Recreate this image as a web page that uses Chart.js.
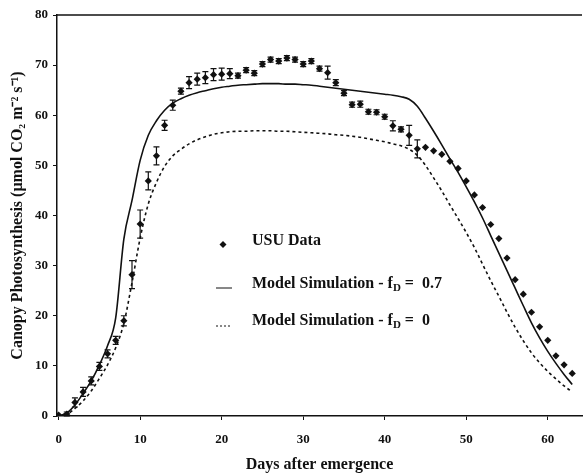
<!DOCTYPE html>
<html>
<head>
<meta charset="utf-8">
<script src="https://cdn.jsdelivr.net/npm/chart.js@4/dist/chart.umd.min.js"></script>
<style>
    html, body { margin: 0; padding: 0; background: #fff; }
    canvas { display: block; }
</style>
</head>
<body>
<canvas id="chartFotosintesis" width="586" height="476"></canvas>
<script>
// Días después de la emergencia
const dias = [0, 1, 2, 3, 4, 5, 6, 7, 8, 9, 10, 11, 12, 13, 14, 15, 16, 17, 18, 19, 20, 21, 22, 23, 24, 25, 26, 27, 28, 29, 30, 31,
    32, 33, 34, 35, 36, 37, 38, 39, 40, 41, 42, 43, 44, 45, 46, 47, 48, 49, 50, 51, 52, 53, 54, 55, 56, 57, 58, 59, 60, 61, 62, 63];

// Datos medidos (USU) y su error
const datosUSU = [0.2, 0.4, 2.7, 4.8, 7.0, 9.9, 12.4, 15.1, 19.0, 28.2, 38.3, 46.9, 51.9, 58.0, 62.0, 64.8, 66.5, 67.2, 67.5, 68.1,
    68.2, 68.3, 67.9, 69.0, 68.4, 70.2, 71.1, 70.8, 71.4, 71.1, 70.2, 70.8, 69.3, 68.5, 66.5, 64.4, 62.1, 62.2, 60.7, 60.6,
    59.7, 57.9, 57.2, 56.0, 53.3, 53.6, 52.9, 52.2, 50.8, 49.4, 46.9, 44.1, 41.6, 38.2, 35.4, 31.5, 27.2, 24.3, 20.7, 17.8,
    15.1, 12.0, 10.2, 8.5];
const errorUSU = [0, 0.4, 0.9, 0.9, 0.8, 0.8, 0.8, 0.8, 1.0, 2.8, 2.8, 1.8, 1.8, 1.0, 1.0, 0.6, 1.2, 1.2, 1.2, 1.2,
    1.2, 1.0, 0.5, 0.5, 0.5, 0.5, 0.5, 0.5, 0.5, 0.5, 0.5, 0.5, 0.5, 1.3, 0.6, 0.5, 0.5, 0.6, 0.5, 0.5,
    0.5, 1.0, 0.5, 2.0, 1.8, 0, 0, 0, 0, 0, 0, 0, 0, 0, 0, 0, 0, 0, 0, 0,
    0, 0, 0, 0];

// Simulaciones del modelo
const modeloFd07 = [0, 0.6, 2.2, 4.5, 7.0, 10.2, 14.0, 19.6, 35.3, 43.0, 51.0, 56.0, 58.9, 61.0, 62.4, 63.3, 64.0, 64.5, 64.9, 65.3,
    65.6, 65.8, 66.0, 66.1, 66.2, 66.3, 66.3, 66.3, 66.2, 66.2, 66.1, 66.0, 65.8, 65.6, 65.4, 65.2, 65.0, 64.8, 64.6, 64.4,
    64.2, 64.0, 63.7, 63.2, 61.8, 59.4, 56.8, 54.1, 51.3, 48.6, 45.7, 42.7, 39.5, 36.0, 32.5, 29.0, 25.5, 22.0, 18.6, 15.6,
    12.9, 10.5, 8.3, 6.3];
const modeloFd0 = [0, 0.3, 1.5, 3.0, 5.0, 7.5, 10.2, 13.6, 18.5, 26.6, 35.5, 42.3, 46.6, 49.8, 51.9, 53.2, 54.3, 55.1, 55.7, 56.2,
    56.5, 56.7, 56.8, 56.8, 56.9, 56.9, 56.9, 56.8, 56.8, 56.7, 56.6, 56.5, 56.4, 56.3, 56.1, 56.0, 55.8, 55.6, 55.3, 55.0,
    54.7, 54.3, 53.9, 53.2, 52.0, 50.0, 47.5, 44.9, 42.1, 39.4, 36.6, 33.6, 30.3, 27.0, 23.9, 20.7, 17.7, 15.0, 12.6, 10.6,
    8.9, 7.4, 6.0, 4.8];

const ticksX = [0, 10, 20, 30, 40, 50, 60];

const fuente = "'Liberation Serif', 'Times New Roman', serif";
const negro = '#111';

const puntos = (valores) => dias.map((d, i) => ({ x: d, y: valores[i] }));

// Barras de error sobre los datos USU
const barrasError = {
    id: 'barrasError',
    afterDatasetsDraw(chart) {
        const { ctx, scales: { x, y } } = chart;
        ctx.save();
        ctx.strokeStyle = negro;
        ctx.lineWidth = 1.2;
        dias.forEach((d, i) => {
            const e = errorUSU[i];
            if (!e) return;
            const px = x.getPixelForValue(d);
            const y1 = y.getPixelForValue(datosUSU[i] + e);
            const y2 = y.getPixelForValue(datosUSU[i] - e);
            ctx.beginPath();
            ctx.moveTo(px, y1); ctx.lineTo(px, y2);
            ctx.moveTo(px - 3, y1); ctx.lineTo(px + 3, y1);
            ctx.moveTo(px - 3, y2); ctx.lineTo(px + 3, y2);
            ctx.stroke();
        });
        ctx.restore();
    }
};

// Marco superior y leyenda dentro del gráfico
const leyenda = {
    id: 'leyenda',
    afterDraw(chart) {
        const { ctx, chartArea } = chart;
        ctx.save();
        ctx.strokeStyle = negro;
        ctx.lineWidth = 1.5;
        ctx.beginPath();
        ctx.moveTo(chartArea.left, chartArea.top);
        ctx.lineTo(chartArea.right, chartArea.top);
        ctx.stroke();

        ctx.fillStyle = negro;
        ctx.textBaseline = 'middle';
        ctx.font = `bold 16px ${fuente}`;

        // USU Data
        ctx.beginPath();
        ctx.moveTo(223, 241); ctx.lineTo(226.5, 244.5); ctx.lineTo(223, 248); ctx.lineTo(219.5, 244.5);
        ctx.closePath();
        ctx.fill();
        ctx.fillText('USU Data', 252, 241);

        const conSubindice = (xIni, yMid, valor) => {
            ctx.font = `bold 16px ${fuente}`;
            let xx = xIni;
            ctx.fillText('Model Simulation - f', xx, yMid);
            xx += ctx.measureText('Model Simulation - f').width;
            ctx.font = `bold 11px ${fuente}`;
            ctx.fillText('D', xx, yMid + 4);
            xx += ctx.measureText('D').width;
            ctx.font = `bold 16px ${fuente}`;
            ctx.fillText(' =  ' + valor, xx, yMid);
        };

        ctx.lineWidth = 1;
        ctx.beginPath();
        ctx.moveTo(216, 288); ctx.lineTo(232, 288);
        ctx.stroke();
        conSubindice(252, 284, '0.7');

        ctx.setLineDash([2, 2]);
        ctx.beginPath();
        ctx.moveTo(216, 326); ctx.lineTo(232, 326);
        ctx.stroke();
        ctx.setLineDash([]);
        conSubindice(252, 321, '0');
        ctx.restore();
    }
};

const crearGrafico = () => {
    const ctx = document.getElementById('chartFotosintesis').getContext('2d');
    new Chart(ctx, {
        type: 'scatter',
        data: {
            datasets: [
                {
                    label: 'USU Data',
                    data: puntos(datosUSU),
                    showLine: false,
                    pointStyle: 'rectRot',
                    pointRadius: 3.6,
                    backgroundColor: negro,
                    borderColor: negro,
                    borderWidth: 0
                },
                {
                    label: 'Model Simulation - fD = 0.7',
                    data: puntos(modeloFd07),
                    showLine: true,
                    pointRadius: 0,
                    borderColor: negro,
                    borderWidth: 1.6,
                    cubicInterpolationMode: 'monotone'
                },
                {
                    label: 'Model Simulation - fD = 0',
                    data: puntos(modeloFd0),
                    showLine: true,
                    pointRadius: 0,
                    borderColor: negro,
                    borderWidth: 1.6,
                    borderDash: [3, 3],
                    cubicInterpolationMode: 'monotone'
                }
            ]
        },
        options: {
            responsive: false,
            animation: false,
            layout: { padding: { top: 15, right: 0, left: 0, bottom: 0 } },
            plugins: {
                legend: { display: false },
                tooltip: { enabled: false }
            },
            scales: {
                x: {
                    type: 'linear',
                    min: -0.2,
                    max: 64.2,
                    afterBuildTicks: (scale) => { scale.ticks = ticksX.map(v => ({ value: v })); },
                    afterFit: (scale) => { scale.height = 60; },
                    grid: { drawOnChartArea: false, tickLength: 4, color: negro },
                    border: { color: negro, width: 1.5 },
                    ticks: { color: negro, padding: 12, maxRotation: 0, font: { family: fuente, size: 13, weight: 'bold' } },
                    title: {
                        display: true,
                        text: 'Days after emergence',
                        color: negro,
                        padding: { top: 0, bottom: 2 },
                        font: { family: fuente, size: 16, weight: 'bold' }
                    }
                },
                y: {
                    min: 0,
                    max: 80,
                    ticks: { stepSize: 10, color: negro, padding: 5, font: { family: fuente, size: 13, weight: 'bold' } },
                    afterFit: (scale) => { scale.width = 57; },
                    grid: { drawOnChartArea: false, tickLength: 4, color: negro },
                    border: { color: negro, width: 1.5 },
                    title: {
                        display: true,
                        text: 'Canopy Photosynthesis (µmol CO₂ m⁻² s⁻¹)',
                        color: negro,
                        padding: { top: 8, bottom: 0 },
                        font: { family: fuente, size: 16, weight: 'bold' }
                    }
                }
            }
        },
        plugins: [barrasError, leyenda]
    });
};

document.addEventListener('DOMContentLoaded', () => {
    crearGrafico();
});
</script>
</body>
</html>
